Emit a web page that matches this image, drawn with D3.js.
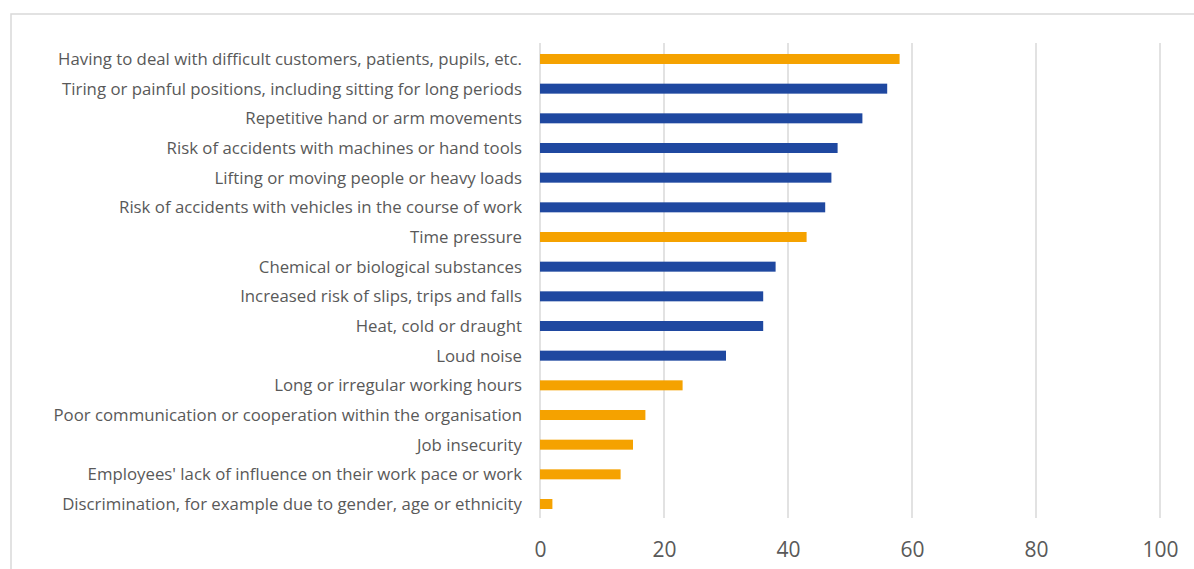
<!DOCTYPE html>
<html><head><meta charset="utf-8">
<script src="https://cdn.jsdelivr.net/npm/d3@7"></script>
<style>body{margin:0;background:#fff;} svg{display:block;}</style>
</head><body>
<svg id="c" width="1194" height="569"></svg>
<script>
const categories = [
  "Having to deal with difficult customers, patients, pupils, etc.",
  "Tiring or painful positions, including sitting for long periods",
  "Repetitive hand or arm movements",
  "Risk of accidents with machines or hand tools",
  "Lifting or moving people or heavy loads",
  "Risk of accidents with vehicles in the course of work",
  "Time pressure",
  "Chemical or biological substances",
  "Increased risk of slips, trips and falls",
  "Heat, cold or draught",
  "Loud noise",
  "Long or irregular working hours",
  "Poor communication or cooperation within the organisation",
  "Job insecurity",
  "Employees' lack of influence on their work pace or work",
  "Discrimination, for example due to gender, age or ethnicity"
];
const values = [58, 56, 52, 48, 47, 46, 43, 38, 36, 36, 30, 23, 17, 15, 13, 2];
const groups = ["psychosocial","physical","physical","physical","physical","physical","psychosocial","physical","physical","physical","physical","psychosocial","psychosocial","psychosocial","psychosocial","psychosocial"];
const tickValues = [0, 20, 40, 60, 80, 100];

const colors = {psychosocial: "#F5A200", physical: "#1F48A0"};
const svg = d3.select("#c");

svg.append("rect").attr("x", 11).attr("y", 14).attr("width", 1300).attr("height", 700)
  .attr("fill", "none").attr("stroke", "#d9d9d9").attr("stroke-width", 1.5);

const x = d3.scaleLinear().domain([0, 100]).range([540, 1160]);
const y = d3.scaleBand().domain(categories).range([44.2, 518.8]).paddingInner(0.663).paddingOuter(0.33);

const g = svg.append("g");
g.selectAll("line.grid").data(tickValues).join("line")
  .attr("class", "grid")
  .attr("x1", d => x(d)).attr("x2", d => x(d))
  .attr("y1", 43).attr("y2", 518)
  .attr("stroke", "#d9d9d9").attr("stroke-width", 1.5);

g.selectAll("rect.bar").data(categories).join("rect")
  .attr("class", "bar")
  .attr("x", x(0))
  .attr("y", d => y(d))
  .attr("width", (d, i) => x(values[i]) - x(0))
  .attr("height", y.bandwidth())
  .attr("fill", (d, i) => colors[groups[i]]);

const yAxis = d3.axisLeft(y).tickSize(0).tickPadding(18);
const ya = svg.append("g").attr("transform", `translate(${x(0)},0.5)`).call(yAxis);
ya.select(".domain").remove();
ya.selectAll("text").attr("fill", "#595959").attr("font-family", "'Open Sans', sans-serif").attr("font-size", 16.8);

const xAxis = d3.axisBottom(x).tickValues(tickValues).tickSize(0).tickPadding(0);
const xa = svg.append("g").attr("transform", `translate(0,550)`).call(xAxis);
xa.select(".domain").remove();
xa.selectAll("text").attr("fill", "#595959").attr("font-family", "'Open Sans', sans-serif").attr("font-size", 21).attr("dy", "0.35em");
</script>
</body></html>
